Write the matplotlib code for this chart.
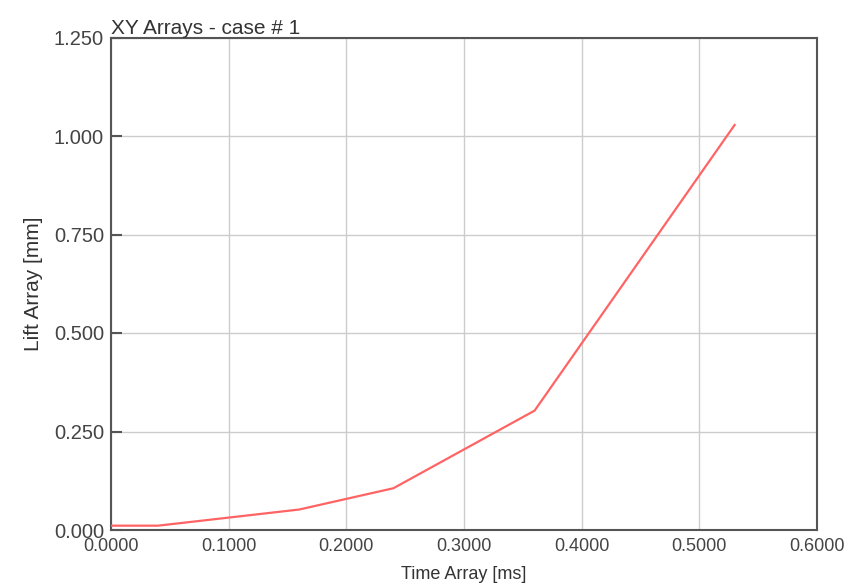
import matplotlib
matplotlib.use("Agg")
import matplotlib.pyplot as plt
from matplotlib.ticker import FormatStrFormatter, MultipleLocator

plt.rcParams['font.family'] = ['Liberation Sans', 'DejaVu Sans']

time_ms = [0.0, 0.04, 0.16, 0.24, 0.36, 0.53]
lift_mm = [0.011, 0.011, 0.052, 0.106, 0.303, 1.028]

title = "XY Arrays - case # 1"
xlabel = "Time Array [ms]"
ylabel = "Lift Array [mm]"

fig = plt.figure(figsize=(8.48, 5.85), dpi=100)
ax = fig.add_axes([111/848, 1-530/585, (817-111)/848, (530-37.5)/585])

ax.plot(time_ms, lift_mm, color='#ff6464', lw=1.6, zorder=3)

ax.set_xlim(0, 0.6)
ax.set_ylim(0, 1.25)
ax.xaxis.set_major_locator(MultipleLocator(0.1))
ax.yaxis.set_major_locator(MultipleLocator(0.25))
ax.xaxis.set_major_formatter(FormatStrFormatter('%.4f'))
ax.yaxis.set_major_formatter(FormatStrFormatter('%.3f'))

ax.grid(True, color='#cccccc', lw=1.0, zorder=0)
for s in ax.spines.values():
    s.set_color('#555555')
    s.set_linewidth(1.5)

ax.tick_params(axis='y', direction='in', length=8, width=1.5, color='#555555',
               labelsize=14.5, labelcolor='#444444', pad=5)
ax.tick_params(axis='x', length=0, labelsize=13, labelcolor='#444444', pad=6)

ax.set_title(title, loc='left', fontsize=15, color='#333333', pad=2)
ax.set_xlabel(xlabel, fontsize=13, color='#333333', labelpad=8)
ax.set_ylabel(ylabel, fontsize=15, color='#333333', labelpad=8)

fig.savefig("out.png", dpi=100)
